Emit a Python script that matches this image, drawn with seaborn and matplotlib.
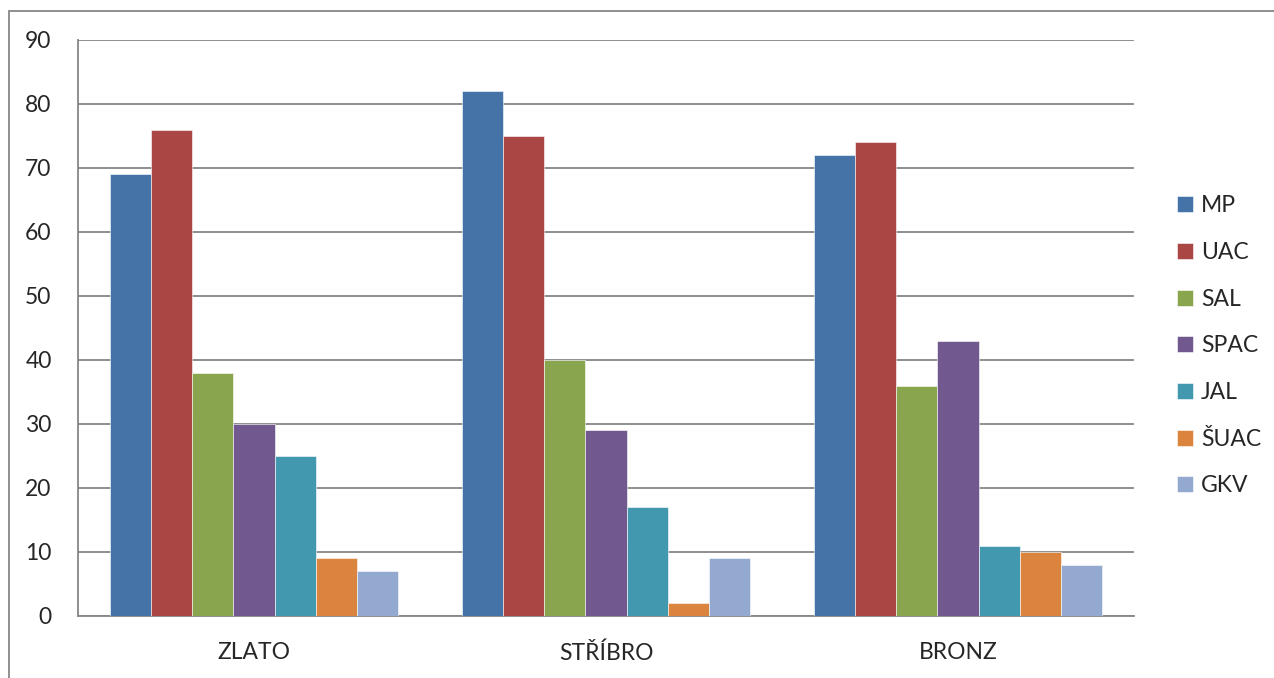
import matplotlib
matplotlib.use("Agg")
import matplotlib.pyplot as plt
import seaborn as sns
import pandas as pd
from matplotlib.patches import Rectangle

categories = ["ZLATO", "STŘÍBRO", "BRONZ"]
series = ["MP", "UAC", "SAL", "SPAC", "JAL", "ŠUAC", "GKV"]
MP = [69, 82, 72]
UAC = [76, 75, 74]
SAL = [38, 40, 36]
SPAC = [30, 29, 43]
JAL = [25, 17, 11]
SUAC = [9, 2, 10]
GKV = [7, 9, 8]
colors = ["#4572A7", "#AA4643", "#89A54E", "#71588F", "#4198AF", "#DB843D", "#93A9CF"]

values = [MP, UAC, SAL, SPAC, JAL, SUAC, GKV]
rows = []
for s, vals in zip(series, values):
    for c, v in zip(categories, vals):
        rows.append({"kat": c, "serie": s, "hodnota": v})
df = pd.DataFrame(rows)

sns.set_style("white")
plt.rcParams['font.family'] = ['Lato', 'DejaVu Sans']

fig = plt.figure(figsize=(12.74, 6.78), dpi=100)
ax = fig.add_axes([78 / 1274, 1 - 616 / 678, (1134 - 78) / 1274, (616 - 40) / 678])

sns.barplot(data=df, x="kat", y="hodnota", hue="serie", order=categories,
            hue_order=series, palette=colors, width=0.82, saturation=1,
            edgecolor="#ffffff", linewidth=0.4, ax=ax, zorder=3)

grey = "#868686"
fs = 16.5
ax.set_ylim(0, 90)
ax.set_yticks(range(0, 91, 10))
ax.set_xlim(-0.5, 2.5)
ax.set_xticks([-0.5, 0.5, 1.5, 2.5])
ax.set_xticklabels([])
ax.set_xticks([0, 1, 2], minor=True)
ax.set_xticklabels(categories, minor=True)
ax.tick_params(axis="x", which="major", direction="out", length=6, width=1.3, color=grey)
ax.tick_params(axis="x", which="minor", length=0, pad=19, labelsize=fs)
ax.tick_params(axis="y", direction="out", length=6, width=1.3, color=grey, labelsize=fs, pad=13)
ax.yaxis.grid(True, color=grey, linewidth=1.3, zorder=0)
ax.set_axisbelow(True)
for side in ["top", "right"]:
    ax.spines[side].set_visible(False)
for side in ["left", "bottom"]:
    ax.spines[side].set_color(grey)
    ax.spines[side].set_linewidth(1.3)
ax.set_xlabel("")
ax.set_ylabel("")

handles, labels = ax.get_legend_handles_labels()
ax.legend(handles, labels, loc="center left", bbox_to_anchor=(1.032, 0.469), frameon=False,
          fontsize=fs, handlelength=0.7, handleheight=0.7, handletextpad=0.35,
          labelspacing=1.12, borderaxespad=0)

fig.patches.append(Rectangle((9 / 1274, -0.1), 1.2, 1.1 - 11 / 678,
                             transform=fig.transFigure, fill=False,
                             edgecolor=grey, linewidth=1.3))

fig.savefig("out.png", dpi=100)
